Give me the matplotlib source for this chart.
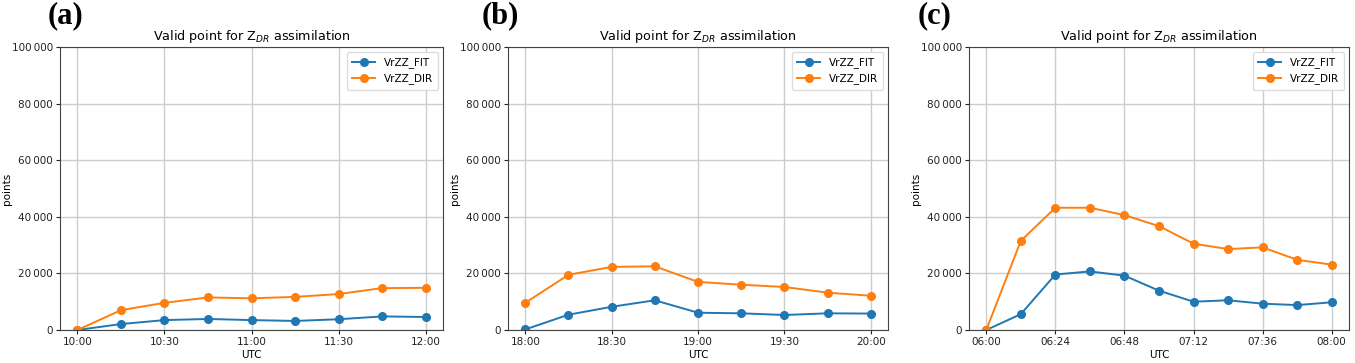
import matplotlib
matplotlib.use("Agg")
import matplotlib.pyplot as plt
import matplotlib.ticker as mticker
import pandas as pd

# Panel (a)
times_a = ["10:00", "10:15", "10:30", "10:45", "11:00", "11:15", "11:30", "11:45", "12:00"]
fit_a = [0, 2100, 3500, 3900, 3500, 3200, 3800, 4800, 4600]
dir_a = [0, 7000, 9600, 11500, 11200, 11700, 12700, 14800, 14900]

# Panel (b)
times_b = ["18:00", "18:15", "18:30", "18:45", "19:00", "19:15", "19:30", "19:45", "20:00"]
fit_b = [200, 5400, 8200, 10500, 6100, 5900, 5300, 5900, 5800]
dir_b = [9600, 19500, 22300, 22500, 17000, 16000, 15200, 13200, 12100]

# Panel (c)
times_c = ["06:00", "06:12", "06:24", "06:36", "06:48", "07:00", "07:12", "07:24", "07:36", "07:48", "08:00"]
fit_c = [0, 5600, 19600, 20700, 19200, 13900, 10000, 10500, 9300, 8800, 9800]
dir_c = [0, 31500, 43200, 43200, 40600, 36700, 30500, 28600, 29200, 24800, 23100]

panels = [("(a)", times_a, fit_a, dir_a),
          ("(b)", times_b, fit_b, dir_b),
          ("(c)", times_c, fit_c, dir_c)]

plt.rcParams['font.family'] = ['DejaVu Sans']
plt.rcParams['font.size'] = 7.5

fig = plt.figure(figsize=(13.55, 3.63), dpi=100)
lefts = [60, 508, 969]
widths = [383, 380, 380]
label_x = [48, 482, 918]

def fmt(v, pos):
    return f"{int(v):,}".replace(",", "\u2009")

for (lab, times, fit, dr), l, w, lx in zip(panels, lefts, widths, label_x):
    ax = fig.add_axes([l / 1355, 33 / 363, w / 1355, 283 / 363])
    t = pd.to_datetime(["2000-01-01 " + s for s in times])
    ax.plot(t, fit, marker='o', markersize=5.5, linewidth=1.4, color='#1f77b4', label='VrZZ_FIT')
    ax.plot(t, dr, marker='o', markersize=5.5, linewidth=1.4, color='#ff7f0e', label='VrZZ_DIR')
    ax.set_ylim(0, 100000)
    ax.set_yticks(range(0, 100001, 20000))
    ax.yaxis.set_major_formatter(mticker.FuncFormatter(fmt))
    ax.set_xticks(t[::2])
    ax.set_xticklabels(times[::2])
    ax.grid(True, color='#cccccc', linewidth=1)
    ax.set_axisbelow(True)
    for s in ax.spines.values():
        s.set_color('#444444')
    ax.tick_params(length=3, pad=2, colors='#222222')
    ax.set_xlabel('UTC', labelpad=2)
    ax.set_ylabel('points', labelpad=0)
    ax.set_title('Valid point for Z$_{DR}$ assimilation', fontsize=9.2, pad=5)
    ax.legend(loc='upper right', fontsize=7.5, handlelength=2.2, borderpad=0.5,
              labelspacing=0.5, framealpha=1, edgecolor='#dddddd')
    fig.text(lx / 1355, 1 - 1 / 363, lab, family='Liberation Serif', fontweight='bold',
             fontsize=22, ha='left', va='top')

fig.savefig('out.png', dpi=100)
